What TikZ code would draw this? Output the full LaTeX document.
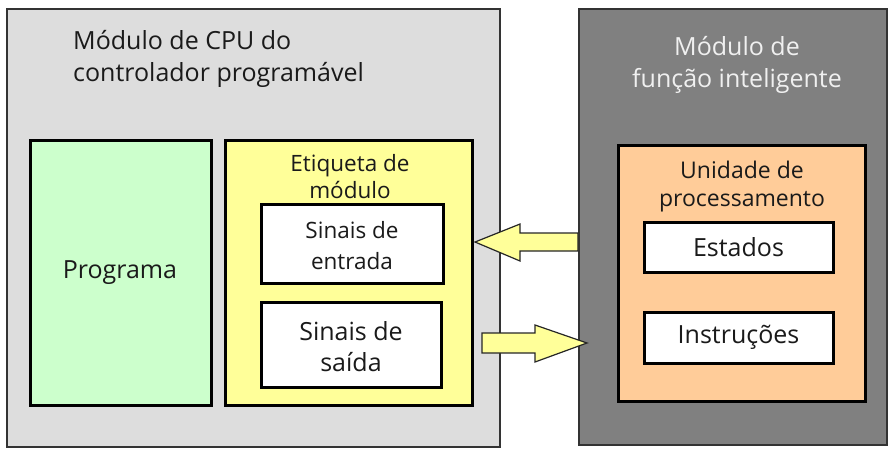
\documentclass[tikz,border=0pt]{standalone}
\usepackage{fontspec}
\setmainfont{Open Sans}
\definecolor{cpugray}{HTML}{DDDDDD}
\definecolor{ifgray}{HTML}{808080}
\definecolor{progreen}{HTML}{CCFFCC}
\definecolor{labyellow}{HTML}{FFFF99}
\definecolor{unitorange}{HTML}{FFCC99}
\definecolor{inktext}{HTML}{1A1A1A}
\definecolor{lighttext}{HTML}{F0F0F0}
\begin{document}
\begin{tikzpicture}[x=1pt,y=-1pt,
  module/.style={draw=black!80,line width=1.2pt,anchor=north west,inner sep=0pt,outer sep=0pt},
  inner/.style={draw=black,line width=3pt,anchor=north west,inner sep=0pt,outer sep=0pt},
  caption/.style={text=inktext,align=center,inner sep=0pt,font=\fontsize{25}{31}\selectfont},
  smallcap/.style={caption,font=\fontsize{22.5}{28}\selectfont},
  blockarrow/.style={draw=black!85,line width=1.2pt,fill=labyellow,line join=miter}]
\useasboundingbox (0,0) rectangle (888,452);
% outer modules
\node[module,fill=cpugray,minimum width=493,minimum height=438] (cpu) at (7,9) {};
\node[module,fill=ifgray,minimum width=308,minimum height=436] (ifm) at (579,9) {};
% CPU module contents
\node[inner,fill=progreen,minimum width=181,minimum height=265] (prog) at (30,140) {};
\node[inner,fill=labyellow,minimum width=247,minimum height=265] (lab) at (225,140) {};
\node[inner,fill=white,minimum width=182,minimum height=79] (sin) at (261,204) {};
\node[inner,fill=white,minimum width=180,minimum height=85] (sout) at (261,302) {};
% intelligent function module contents
\node[inner,fill=unitorange,minimum width=247,minimum height=256] (unit) at (618,145) {};
\node[inner,fill=white,minimum width=189,minimum height=50] (est) at (644,222) {};
\node[inner,fill=white,minimum width=189,minimum height=51] (ins) at (644,312) {};
% texts
\node[caption,align=left,anchor=west,font=\fontsize{25}{32}\selectfont] (cputitle) at (73,59) {Módulo de CPU do\\controlador programável};
\node[caption,text=lighttext,font=\fontsize{25}{32}\selectfont] (iftitle) at (737,65) {Módulo de\\função inteligente};
\node[caption] (progtxt) at (120,273) {Programa};
\node[smallcap,font=\fontsize{22.5}{27}\selectfont] (labtxt) at (350,177) {Etiqueta de\\módulo};
\node[smallcap,font=\fontsize{22.5}{31}\selectfont] (sintxt) at (352,246) {Sinais de\\entrada};
\node[caption] (souttxt) at (351,347) {Sinais de\\saída};
\node[smallcap,font=\fontsize{23}{28}\selectfont] (unittxt) at (742,187) {Unidade de\\processamento};
\node[caption] (esttxt) at (est.center) {Estados};
\node[caption] (instxt) at (ins.center) {Instruções};
% block arrows between the modules
\draw[blockarrow] (475,242) -- (520,224) -- (520,233) -- (578,233) -- (578,251) -- (520,251) -- (520,261) -- cycle;
\draw[blockarrow] (482,333) -- (535,333) -- (535,325) -- (587,343) -- (535,362) -- (535,353) -- (482,353) -- cycle;
\end{tikzpicture}
\end{document}
